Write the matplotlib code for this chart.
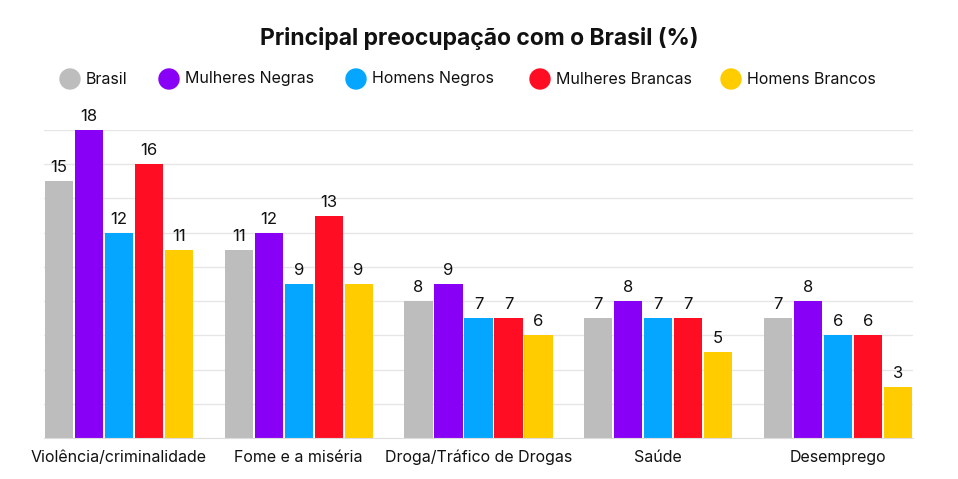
import matplotlib

matplotlib.use("Agg")
import matplotlib.pyplot as plt
import numpy as np

categories = ["Violência/criminalidade", "Fome e a miséria",
              "Droga/Tráfico de Drogas", "Saúde", "Desemprego"]
series = ["Brasil", "Mulheres Negras", "Homens Negros",
          "Mulheres Brancas", "Homens Brancos"]
brasil = [15, 11, 8, 7, 7]
mulheres_negras = [18, 12, 9, 8, 8]
homens_negros = [12, 9, 7, 7, 6]
mulheres_brancas = [16, 13, 7, 7, 6]
homens_brancos = [11, 9, 6, 5, 3]
colors = ["#bdbdbd", "#8800f5", "#05a6ff", "#ff0d23", "#ffcc00"]

values = [brasil, mulheres_negras, homens_negros, mulheres_brancas, homens_brancos]

plt.rcParams["font.family"] = ["Inter", "DejaVu Sans"]

fig = plt.figure(figsize=(9.58, 4.79), dpi=100)
ax = fig.add_axes([44 / 958, 1 - 438 / 479, (913 - 44) / 958, (438 - 130) / 479])

x = np.arange(len(categories))
group_w = 150 / 180
slot = group_w / len(series)
for i, (vals, col) in enumerate(zip(values, colors)):
    pos = x - group_w / 2 + slot * (i + 0.5)
    ax.bar(pos, vals, width=slot * 0.94, color=col, zorder=2, clip_on=False)
    for px, v in zip(pos, vals):
        ax.text(px, v + 0.35, f"{v}", ha="center", va="bottom",
                fontsize=12, color="#111111")

ax.set_xlim(-group_w / 2, len(categories) - 1 + group_w / 2)
ax.set_ylim(0, 18)
ax.set_yticks(np.arange(2, 19, 2))
ax.yaxis.grid(True, color="#e6e6e6", linewidth=1, zorder=0)
ax.tick_params(axis="y", left=False, labelleft=False)
ax.tick_params(axis="x", bottom=False, pad=5)
ax.set_xticks(x)
ax.set_xticklabels(categories, fontsize=11.5, color="#111111")
for s in ("top", "right", "left"):
    ax.spines[s].set_visible(False)
ax.spines["bottom"].set_color("#dddddd")

fig.text(0.5, 1 - 38 / 479, "Principal preocupação com o Brasil (%)",
         ha="center", va="center", fontsize=16.5, fontweight="bold", color="#111111")

circle_x = [70, 169, 356, 540, 731]
ly = 1 - 79 / 479
for cx, name, col in zip(circle_x, series, colors):
    fig.patches.append(matplotlib.patches.Ellipse(
        (cx / 958, ly), 20 / 958, 20 / 479, transform=fig.transFigure,
        color=col))
    fig.text((cx + 16) / 958, ly, name, ha="left", va="center",
             fontsize=11.5, color="#111111")

fig.savefig("out.png", dpi=100, facecolor="white")
